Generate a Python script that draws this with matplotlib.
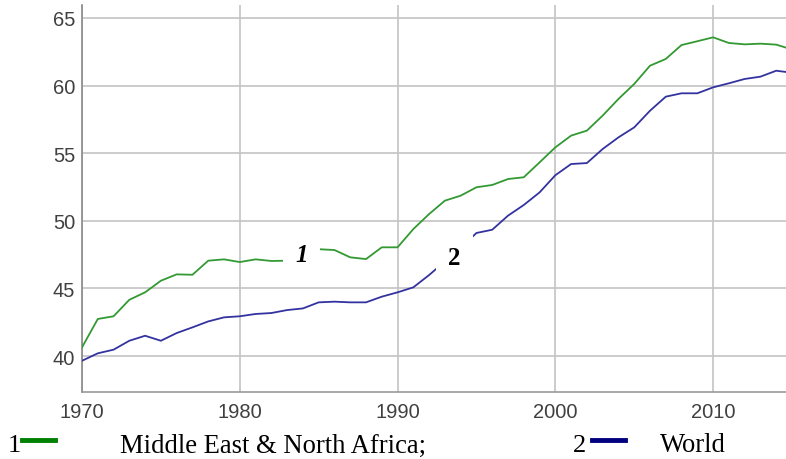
import matplotlib
matplotlib.use("Agg")
import matplotlib.pyplot as plt

years = list(range(1970, 2016))
mena = [40.64, 42.74, 42.94, 44.16, 44.71, 45.57, 46.04, 46.01, 47.05, 47.15,
        46.95, 47.15, 47.03, 47.05, 47.50, 47.90, 47.84, 47.30, 47.17, 48.04,
        48.04, 49.39, 50.50, 51.49, 51.86, 52.48, 52.65, 53.09, 53.22, 54.32,
        55.43, 56.30, 56.67, 57.78, 59.01, 60.12, 61.47, 61.97, 63.00, 63.28,
        63.57, 63.15, 63.05, 63.10, 63.03, 62.67]
world = [39.65, 40.20, 40.47, 41.13, 41.50, 41.13, 41.70, 42.12, 42.56, 42.86,
         42.94, 43.11, 43.18, 43.40, 43.52, 43.97, 44.02, 43.97, 43.97, 44.39,
         44.71, 45.08, 45.99, 47.00, 48.00, 49.10, 49.34, 50.38, 51.17, 52.10,
         53.37, 54.20, 54.27, 55.31, 56.17, 56.91, 58.14, 59.18, 59.43, 59.43,
         59.87, 60.17, 60.49, 60.66, 61.10, 60.95]
xticks = [1970, 1980, 1990, 2000, 2010]
yticks = [40, 45, 50, 55, 60, 65]
series_names = ["Middle East & North Africa;", "World"]

fig = plt.figure(figsize=(7.86, 4.60), dpi=100)
ax = fig.add_axes([82 / 786, (460 - 393) / 460, (786 - 82) / 786, (393 - 6) / 460])

ax.plot(years, mena, color="#339933", lw=1.3, zorder=3)
ax.plot(years, world, color="#3333a0", lw=1.3, zorder=3)

ax.set_xlim(1970, 2014.62)
ax.set_ylim(37.34, 65.96)
ax.set_xticks(xticks)
ax.set_yticks(yticks)
ax.grid(True, color="#c4c4c4", lw=1.2, zorder=0)
for s in ["top", "right"]:
    ax.spines[s].set_visible(False)
ax.spines["left"].set_color("#888888")
ax.spines["left"].set_linewidth(1.2)
ax.spines["bottom"].set_color("#999999")
ax.spines["bottom"].set_linewidth(1.2)
ax.tick_params(length=0, pad=5, labelsize=14.5, labelcolor="#404040")
ax.tick_params(axis="x", pad=7)
for lab in ax.get_xticklabels() + ax.get_yticklabels():
    lab.set_fontfamily("Liberation Sans")

# in-plot series labels
i1 = years.index(1984)
ax.text(years[i1] - 0.1, mena[i1], "1", fontsize=18, fontfamily="Liberation Serif",
        fontweight="bold", fontstyle="italic", ha="center", va="center", zorder=4,
        bbox=dict(facecolor="white", edgecolor="none", pad=9))
i2 = years.index(1994)
ax.text(years[i2] - 0.4, world[i2] - 0.7, "2", fontsize=18, fontfamily="Liberation Serif",
        fontweight="bold", ha="center", va="center", zorder=4,
        bbox=dict(facecolor="white", edgecolor="none", pad=9))

# legend at bottom
serif = "Liberation Serif"
fig.text(8 / 786, 1 - 446 / 460, "1", fontsize=19, fontfamily=serif, va="center", ha="left")
fig.add_artist(plt.Line2D([22 / 786, 55 / 786], [1 - 441 / 460] * 2, color="#008000", lw=3.5))
fig.text(120 / 786, 1 - 446 / 460, series_names[0], fontsize=19.2, fontfamily=serif, va="center", ha="left")
fig.text(573 / 786, 1 - 446 / 460, "2", fontsize=19, fontfamily=serif, va="center", ha="left")
fig.add_artist(plt.Line2D([592 / 786, 625 / 786], [1 - 441 / 460] * 2, color="#000080", lw=3.5))
fig.text(660 / 786, 1 - 446 / 460, series_names[1], fontsize=19.2, fontfamily=serif, va="center", ha="left")

fig.savefig("out.png", dpi=100)
